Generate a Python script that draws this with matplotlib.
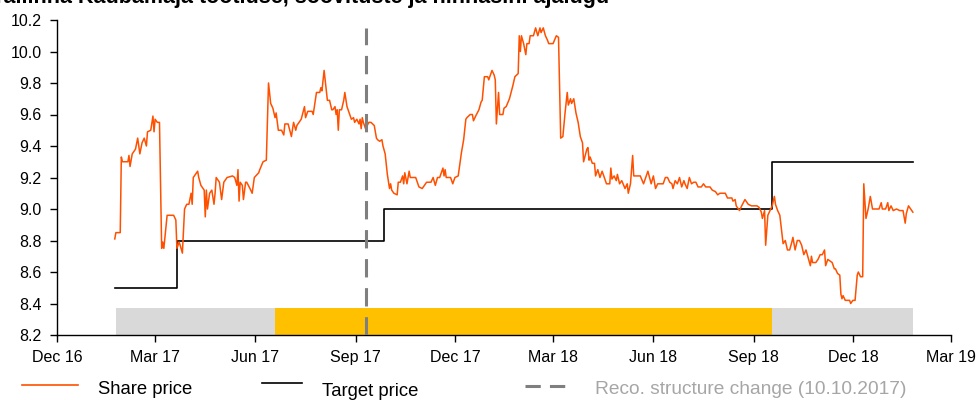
import matplotlib
matplotlib.use("Agg")
import matplotlib.pyplot as plt
import matplotlib.dates as mdates
from matplotlib.lines import Line2D
import pandas as pd

plt.rcParams['font.family'] = ['Liberation Sans', 'DejaVu Sans']

title = "Tallinna Kaubamaja tootluse, soovituste ja hinnasihi ajalugu"

price_dates = [
    "2017-01-23", "2017-01-24", "2017-01-28", "2017-01-29", "2017-01-30", "2017-02-04",
    "2017-02-05", "2017-02-06", "2017-02-08", "2017-02-11", "2017-02-13", "2017-02-15",
    "2017-02-17", "2017-02-19", "2017-02-21", "2017-02-22", "2017-02-25", "2017-02-27",
    "2017-02-28", "2017-03-01", "2017-03-03", "2017-03-05", "2017-03-07", "2017-03-08",
    "2017-03-09", "2017-03-12", "2017-03-18", "2017-03-20", "2017-03-21", "2017-03-23",
    "2017-03-24", "2017-03-26", "2017-03-28", "2017-03-30", "2017-04-01", "2017-04-03",
    "2017-04-04", "2017-04-05", "2017-04-09", "2017-04-10", "2017-04-12", "2017-04-15",
    "2017-04-16", "2017-04-17", "2017-04-18", "2017-04-20", "2017-04-22", "2017-04-24",
    "2017-04-25", "2017-04-26", "2017-04-29", "2017-05-01", "2017-05-03", "2017-05-06",
    "2017-05-11", "2017-05-13", "2017-05-15", "2017-05-16", "2017-05-17", "2017-05-18",
    "2017-05-20", "2017-05-21", "2017-05-23", "2017-05-24", "2017-05-27", "2017-05-29",
    "2017-05-31", "2017-06-04", "2017-06-05", "2017-06-08", "2017-06-11", "2017-06-13",
    "2017-06-15", "2017-06-17", "2017-06-19", "2017-06-20", "2017-06-22", "2017-06-25",
    "2017-06-27", "2017-06-28", "2017-07-01", "2017-07-04", "2017-07-06", "2017-07-08",
    "2017-07-09", "2017-07-13", "2017-07-16", "2017-07-17", "2017-07-19", "2017-07-21",
    "2017-07-23", "2017-07-24", "2017-07-27", "2017-07-30", "2017-07-31", "2017-08-01",
    "2017-08-03", "2017-08-05", "2017-08-06", "2017-08-08", "2017-08-10", "2017-08-11",
    "2017-08-13", "2017-08-14", "2017-08-15", "2017-08-16", "2017-08-17", "2017-08-19",
    "2017-08-21", "2017-08-22", "2017-08-24", "2017-08-26", "2017-08-28", "2017-08-30",
    "2017-08-31", "2017-09-02", "2017-09-04", "2017-09-05", "2017-09-06", "2017-09-07",
    "2017-09-08", "2017-09-10", "2017-09-13", "2017-09-15", "2017-09-18", "2017-09-20",
    "2017-09-21", "2017-09-23", "2017-09-25", "2017-09-26", "2017-09-28", "2017-09-30",
    "2017-10-02", "2017-10-03", "2017-10-04", "2017-10-06", "2017-10-09", "2017-10-10",
    "2017-10-12", "2017-10-14", "2017-10-15", "2017-10-16", "2017-10-18", "2017-10-20",
    "2017-10-21", "2017-10-26", "2017-10-29", "2017-11-01", "2017-11-05", "2017-11-09",
    "2017-11-11", "2017-11-13", "2017-11-15", "2017-11-17", "2017-11-20", "2017-11-21",
    "2017-11-22", "2017-11-23", "2017-11-27", "2017-11-29", "2017-12-01", "2017-12-04",
    "2017-12-07", "2017-12-09", "2017-12-11", "2017-12-12", "2017-12-15", "2017-12-17",
    "2017-12-18", "2017-12-20", "2017-12-23", "2017-12-25", "2017-12-26", "2017-12-28",
    "2017-12-31", "2018-01-01", "2018-01-02", "2018-01-04", "2018-01-06", "2018-01-07",
    "2018-01-08", "2018-01-10", "2018-01-11", "2018-01-14", "2018-01-15", "2018-01-17",
    "2018-01-20", "2018-01-23", "2018-01-25", "2018-01-28", "2018-01-29", "2018-01-30",
    "2018-01-31", "2018-02-02", "2018-02-04", "2018-02-05", "2018-02-07", "2018-02-08",
    "2018-02-11", "2018-02-13", "2018-02-15", "2018-02-17", "2018-02-18", "2018-02-20",
    "2018-02-22", "2018-02-24", "2018-02-25", "2018-03-01", "2018-03-04", "2018-03-06",
    "2018-03-08", "2018-03-10", "2018-03-12", "2018-03-14", "2018-03-15", "2018-03-17",
    "2018-03-18", "2018-03-20", "2018-03-22", "2018-03-24", "2018-03-26", "2018-03-28",
    "2018-03-29", "2018-04-01", "2018-04-02", "2018-04-03", "2018-04-04", "2018-04-06",
    "2018-04-08", "2018-04-09", "2018-04-11", "2018-04-13", "2018-04-15", "2018-04-17",
    "2018-04-19", "2018-04-22", "2018-04-23", "2018-04-24", "2018-04-26", "2018-04-28",
    "2018-04-29", "2018-05-01", "2018-05-03", "2018-05-06", "2018-05-08", "2018-05-09",
    "2018-05-11", "2018-05-13", "2018-05-14", "2018-05-20", "2018-05-23", "2018-05-27",
    "2018-05-30", "2018-06-01", "2018-06-03", "2018-06-05", "2018-06-10", "2018-06-12",
    "2018-06-14", "2018-06-16", "2018-06-18", "2018-06-19", "2018-06-21", "2018-06-23",
    "2018-06-25", "2018-06-27", "2018-06-29", "2018-06-30", "2018-07-02", "2018-07-04",
    "2018-07-06", "2018-07-08", "2018-07-10", "2018-07-12", "2018-07-15", "2018-07-17",
    "2018-07-19", "2018-07-23", "2018-07-25", "2018-07-28", "2018-07-30", "2018-08-01",
    "2018-08-06", "2018-08-08", "2018-08-12", "2018-08-13", "2018-08-15", "2018-08-16",
    "2018-08-19", "2018-08-21", "2018-08-24", "2018-08-27", "2018-08-30", "2018-09-01",
    "2018-09-04", "2018-09-06", "2018-09-08", "2018-09-09", "2018-09-11", "2018-09-12",
    "2018-09-14", "2018-09-16", "2018-09-18", "2018-09-20", "2018-09-21", "2018-09-23",
    "2018-09-25", "2018-09-28", "2018-09-30", "2018-10-02", "2018-10-04", "2018-10-06",
    "2018-10-07", "2018-10-09", "2018-10-11", "2018-10-13", "2018-10-15", "2018-10-17",
    "2018-10-19", "2018-10-21", "2018-10-23", "2018-10-24", "2018-10-25", "2018-10-28",
    "2018-10-30", "2018-11-01", "2018-11-03", "2018-11-05", "2018-11-06", "2018-11-08",
    "2018-11-10", "2018-11-12", "2018-11-14", "2018-11-15", "2018-11-17", "2018-11-19",
    "2018-11-20", "2018-11-21", "2018-11-22", "2018-11-24", "2018-11-28", "2018-11-29",
    "2018-12-01", "2018-12-03", "2018-12-05", "2018-12-06", "2018-12-08", "2018-12-10",
    "2018-12-11", "2018-12-13", "2018-12-15", "2018-12-17", "2018-12-19", "2018-12-25",
    "2018-12-27", "2018-12-28", "2018-12-31", "2019-01-02", "2019-01-03", "2019-01-05",
    "2019-01-07", "2019-01-10", "2019-01-13", "2019-01-16", "2019-01-18", "2019-01-19",
    "2019-01-21", "2019-01-23", "2019-01-25",
]

price_values = [
    8.81, 8.85, 8.85, 9.33, 9.30, 9.30,
    9.34, 9.27, 9.35, 9.38, 9.45, 9.35,
    9.42, 9.45, 9.40, 9.49, 9.50, 9.59,
    9.49, 9.57, 9.55, 9.55, 8.75, 8.79,
    8.75, 8.96, 8.96, 8.93, 8.75, 8.79,
    8.77, 8.72, 9.00, 9.03, 9.03, 9.10,
    9.03, 9.20, 9.24, 9.20, 9.15, 9.12,
    8.95, 9.12, 9.00, 9.10, 9.12, 9.03,
    9.10, 9.20, 9.17, 9.06, 9.17, 9.20,
    9.21, 9.20, 9.15, 9.25, 9.05, 9.17,
    9.15, 9.06, 9.17, 9.17, 9.13, 9.10,
    9.20, 9.23, 9.25, 9.30, 9.31, 9.80,
    9.67, 9.64, 9.58, 9.61, 9.50, 9.50,
    9.47, 9.54, 9.54, 9.46, 9.55, 9.50,
    9.53, 9.57, 9.65, 9.58, 9.62, 9.62,
    9.62, 9.60, 9.74, 9.74, 9.77, 9.75,
    9.88, 9.75, 9.69, 9.69, 9.63, 9.63,
    9.65, 9.60, 9.63, 9.50, 9.63, 9.63,
    9.69, 9.74, 9.65, 9.61, 9.57, 9.58,
    9.55, 9.57, 9.54, 9.57, 9.51, 9.58,
    9.55, 9.51, 9.55, 9.55, 9.53, 9.45,
    9.44, 9.43, 9.44, 9.40, 9.35, 9.22,
    9.13, 9.16, 9.12, 9.10, 9.09, 9.17,
    9.17, 9.21, 9.16, 9.23, 9.16, 9.24,
    9.20, 9.20, 9.14, 9.13, 9.17, 9.17,
    9.20, 9.15, 9.20, 9.20, 9.26, 9.21,
    9.25, 9.20, 9.20, 9.16, 9.20, 9.21,
    9.36, 9.44, 9.57, 9.58, 9.60, 9.60,
    9.56, 9.59, 9.63, 9.68, 9.69, 9.84,
    9.84, 9.82, 9.84, 9.88, 9.85, 9.82,
    9.54, 9.74, 9.60, 9.60, 9.64, 9.65,
    9.70, 9.78, 9.84, 9.86, 10.10, 10.00,
    10.10, 10.05, 9.98, 10.05, 10.05, 10.10,
    10.10, 10.15, 10.10, 10.15, 10.12, 10.15,
    10.10, 10.07, 10.05, 10.05, 10.10, 10.09,
    9.45, 9.46, 9.61, 9.74, 9.66, 9.70,
    9.67, 9.70, 9.61, 9.55, 9.46, 9.42,
    9.30, 9.38, 9.39, 9.31, 9.33, 9.29,
    9.29, 9.21, 9.25, 9.20, 9.24, 9.20,
    9.16, 9.16, 9.26, 9.19, 9.21, 9.18,
    9.22, 9.16, 9.18, 9.13, 9.16, 9.10,
    9.16, 9.34, 9.21, 9.21, 9.16, 9.24,
    9.16, 9.21, 9.13, 9.16, 9.16, 9.20,
    9.20, 9.17, 9.16, 9.13, 9.18, 9.16,
    9.20, 9.14, 9.18, 9.16, 9.13, 9.20,
    9.16, 9.17, 9.17, 9.14, 9.14, 9.16,
    9.14, 9.14, 9.12, 9.11, 9.09, 9.10,
    9.10, 9.07, 9.07, 9.05, 9.06, 9.02,
    8.99, 9.02, 9.06, 9.03, 9.02, 9.02,
    9.02, 9.01, 8.98, 8.94, 8.99, 8.77,
    8.96, 8.99, 9.02, 9.08, 9.03, 8.99,
    8.96, 8.78, 8.80, 8.74, 8.74, 8.79,
    8.82, 8.74, 8.80, 8.80, 8.77, 8.71,
    8.74, 8.69, 8.64, 8.70, 8.66, 8.66,
    8.68, 8.71, 8.71, 8.74, 8.64, 8.68,
    8.67, 8.66, 8.62, 8.62, 8.59, 8.58,
    8.46, 8.43, 8.45, 8.42, 8.42, 8.40,
    8.42, 8.42, 8.58, 8.60, 8.57, 8.57,
    9.16, 8.94, 9.00, 9.08, 9.00, 9.00,
    9.04, 9.00, 9.00, 9.04, 8.99, 9.02,
    8.99, 9.00, 8.99, 8.99, 8.91, 8.97,
    9.02, 9.00, 8.98,
]

# target price steps
target_dates = ["2017-01-23", "2017-03-21", "2017-09-27", "2018-09-18", "2019-01-25"]
target_values = [8.5, 8.8, 9.0, 9.3, 9.3]

# recommendation bands at the bottom
band_starts = ["2017-01-24", "2017-06-19", "2018-09-18"]
band_ends = ["2017-06-19", "2018-09-18", "2019-01-25"]
band_colors = ["#d9d9d9", "#ffc000", "#d9d9d9"]
band_top = 8.37

reco_change = "2017-09-10"

pd_dates = pd.to_datetime(price_dates)
t_dates = pd.to_datetime(target_dates)

fig = plt.figure(figsize=(9.78, 4.0), dpi=100)
ax = fig.add_axes([57 / 978, 1 - 335 / 400, 894 / 978, 315 / 400])

for s, e, c in zip(band_starts, band_ends, band_colors):
    s = pd.Timestamp(s)
    e = pd.Timestamp(e)
    ax.fill_between([s, e], 8.2, band_top, color=c, linewidth=0, zorder=1)

ax.plot(pd_dates, price_values, color="#ff5000", linewidth=1.1, zorder=3)
ax.step(t_dates, target_values, where="post", color="black", linewidth=1.2, zorder=2)

rc = pd.Timestamp(reco_change)
ax.plot([rc, rc], [8.2, 10.15], color="#7f7f7f", linewidth=2.2,
        dashes=(6, 3.5), zorder=4)

ax.set_xlim(pd.Timestamp("2016-12-01"), pd.Timestamp("2019-03-01"))
ax.set_ylim(8.2, 10.2)
ax.set_yticks([8.2 + 0.2 * i for i in range(11)])
ax.yaxis.set_major_formatter(plt.FormatStrFormatter("%.1f"))
ax.xaxis.set_major_locator(mdates.MonthLocator(bymonth=[3, 6, 9, 12]))
ax.xaxis.set_major_formatter(mdates.DateFormatter("%b %y"))

for side in ["top", "right"]:
    ax.spines[side].set_visible(False)
for side in ["left", "bottom"]:
    ax.spines[side].set_linewidth(1.0)
    ax.spines[side].set_color("black")
ax.tick_params(axis="both", direction="out", length=5, width=1, labelsize=11.5,
               colors="black", pad=6)

fig.text(-0.008, 1 - 3 / 400, title, fontsize=15.5, fontweight="bold",
         ha="left", va="baseline")

# legend row
fig.add_artist(Line2D([22 / 978, 78 / 978], [1 - 385 / 400] * 2, color="#ff5000", linewidth=1.2))
fig.text(98 / 978, 1 - 389 / 400, "Share price", fontsize=13.3, va="center", ha="left")
fig.add_artist(Line2D([262 / 978, 302 / 978], [1 - 383 / 400] * 2, color="black", linewidth=1.2))
fig.text(322 / 978, 1 - 392 / 400, "Target price", fontsize=13.3, va="center", ha="left")
fig.add_artist(Line2D([525 / 978, 567 / 978], [1 - 386 / 400] * 2, color="#7f7f7f", linewidth=2.2,
                      dashes=(5, 3)))
fig.text(595 / 978, 1 - 389 / 400, "Reco. structure change (10.10.2017)", fontsize=13.8,
         va="center", ha="left", color="#a6a6a6")

fig.savefig("out.png", dpi=100)
